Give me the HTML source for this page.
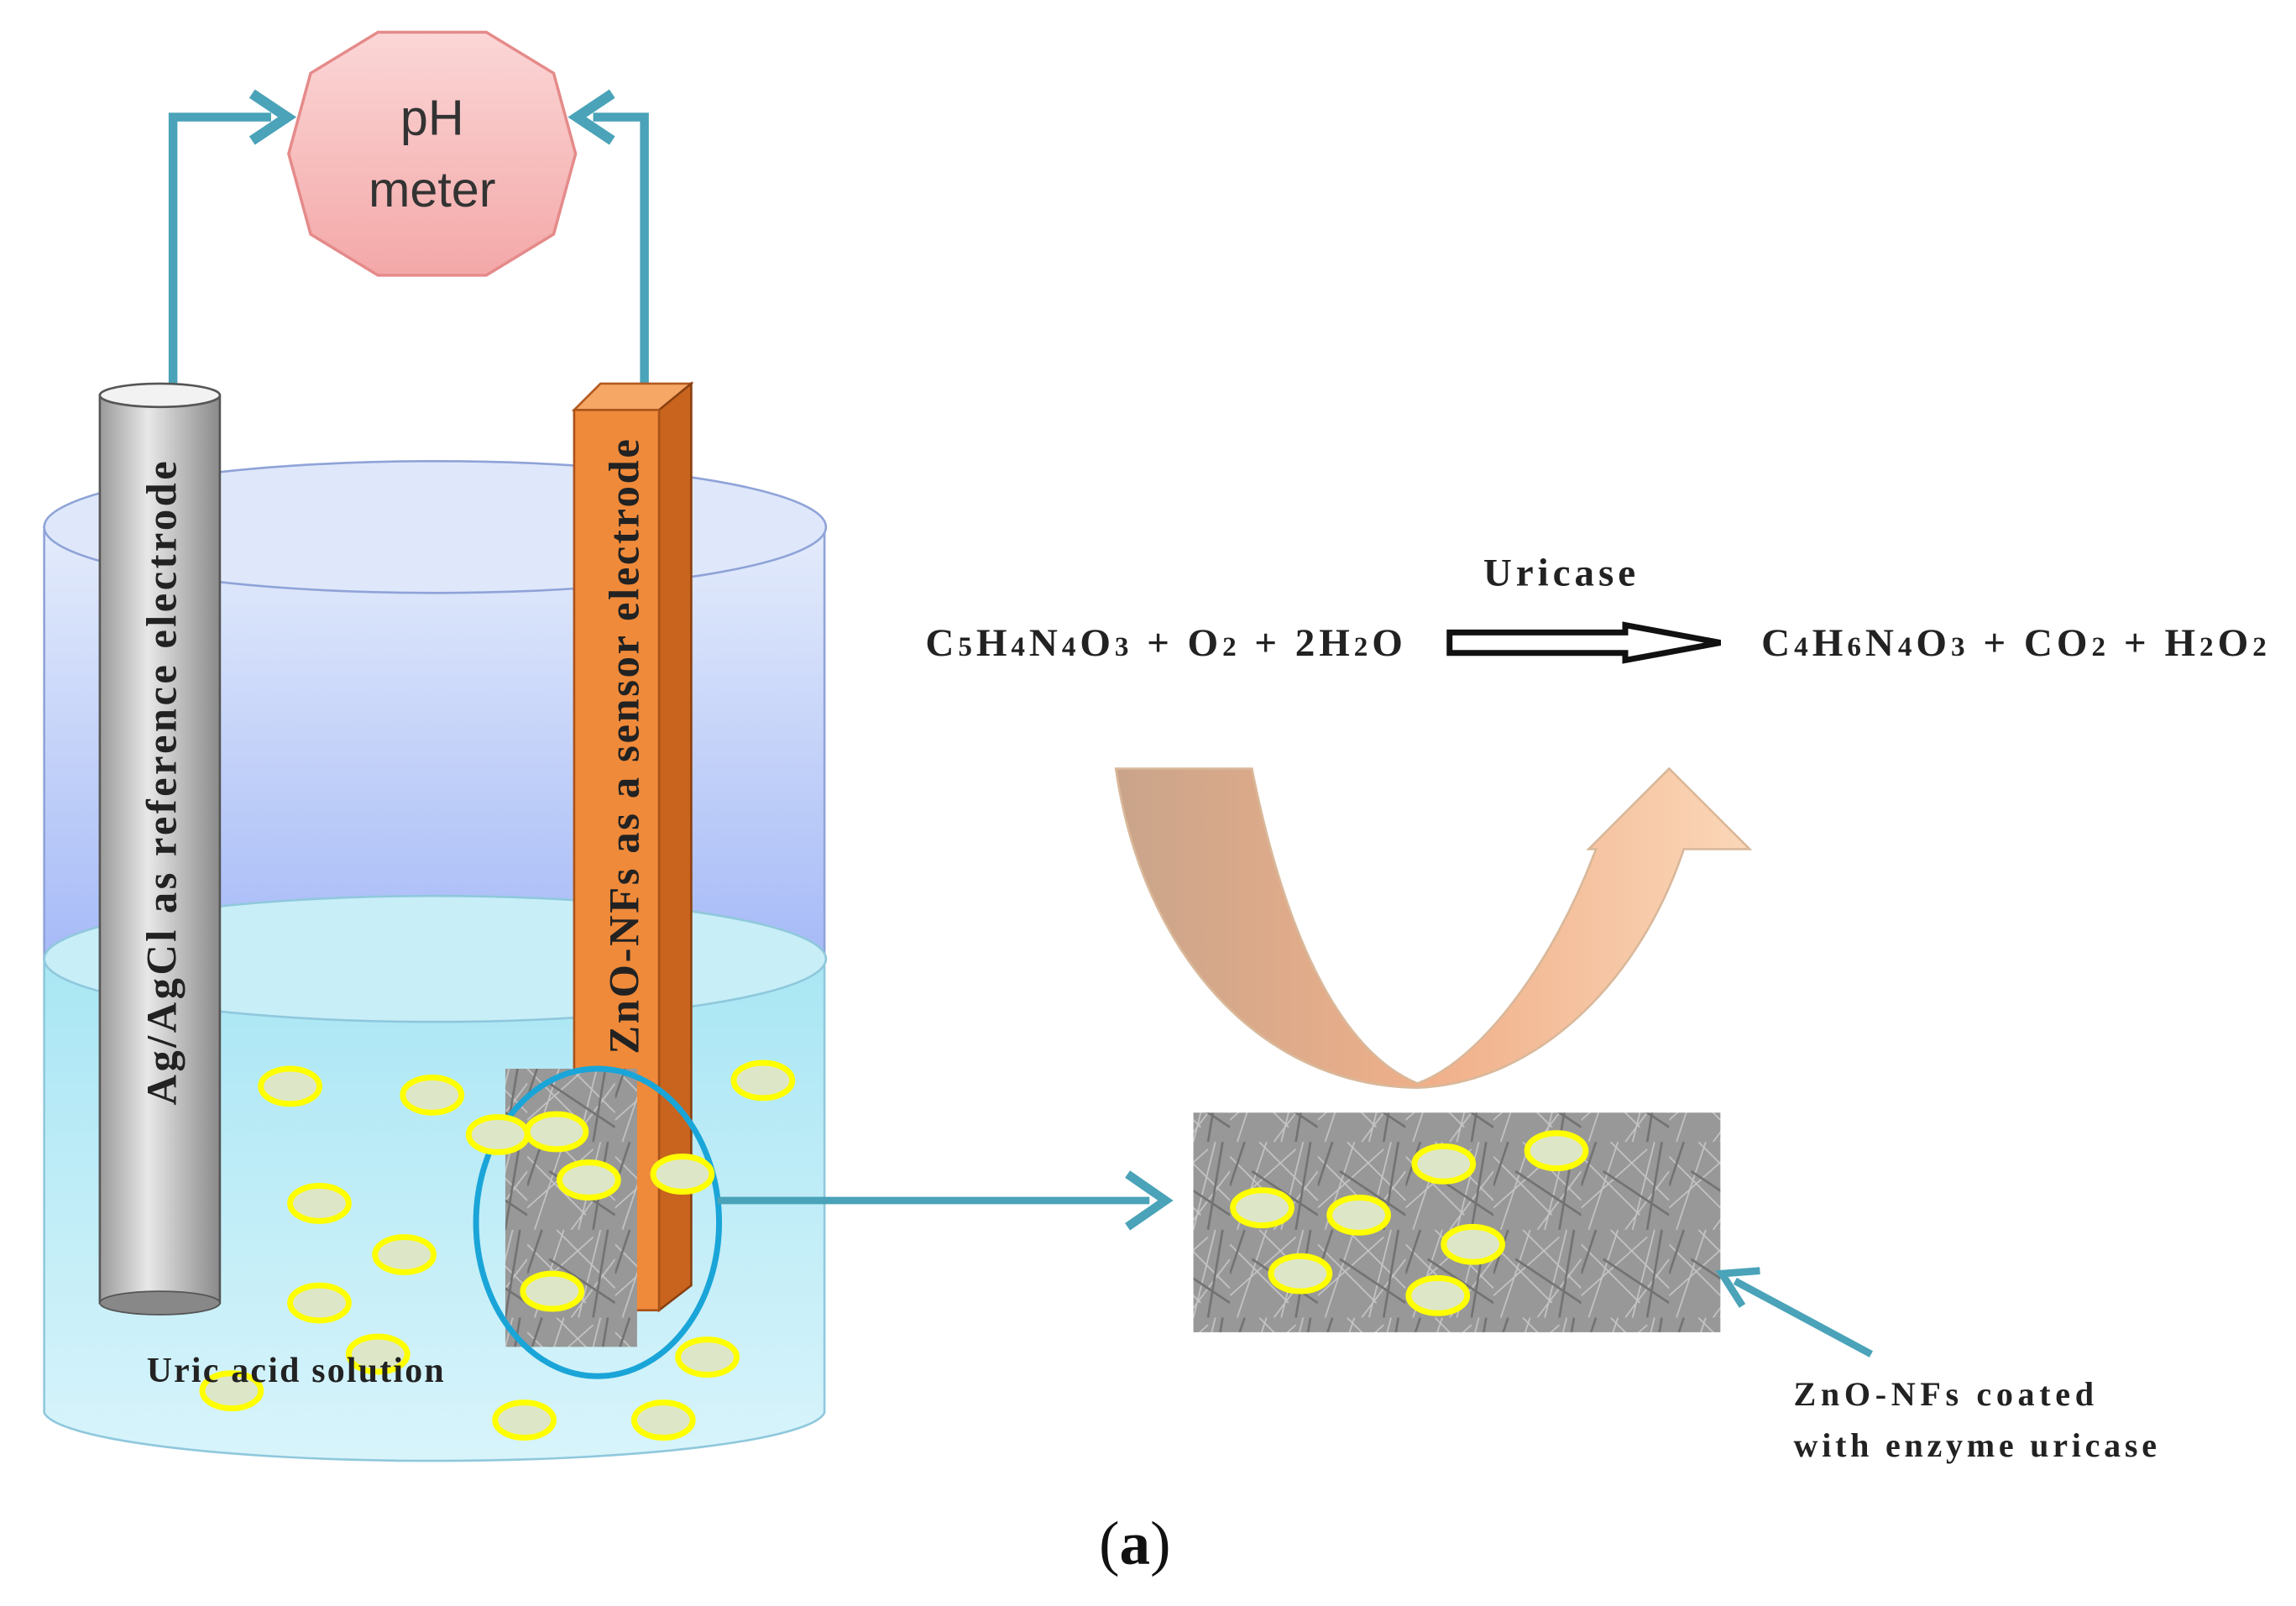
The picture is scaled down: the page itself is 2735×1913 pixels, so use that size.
<!DOCTYPE html>
<html><head><meta charset="utf-8"><style>html,body{margin:0;padding:0;background:#fff}svg{display:block}</style></head>
<body>
<svg width="2735" height="1913" viewBox="0 0 1568 1097" xmlns="http://www.w3.org/2000/svg" font-family="'Liberation Serif', serif">
<defs>
<linearGradient id="pink" x1="0" y1="0" x2="0" y2="1"><stop offset="0" stop-color="#fbd6d6"/><stop offset="1" stop-color="#f4a8a8"/></linearGradient>
<linearGradient id="upper" x1="0" y1="0" x2="0" y2="1"><stop offset="0" stop-color="#e4ecfb"/><stop offset="1" stop-color="#a6baf7"/></linearGradient>
<linearGradient id="water" x1="0" y1="0" x2="0" y2="1"><stop offset="0" stop-color="#a9e6f4"/><stop offset="1" stop-color="#d8f4fb"/></linearGradient>
<linearGradient id="gray" x1="0" y1="0" x2="1" y2="0"><stop offset="0" stop-color="#9a9a9a"/><stop offset="0.4" stop-color="#e8e8e8"/><stop offset="1" stop-color="#8a8a8a"/></linearGradient>
<linearGradient id="uarrow" x1="0" y1="0" x2="1" y2="0"><stop offset="0" stop-color="#c9a48a"/><stop offset="0.5" stop-color="#f0b08a"/><stop offset="1" stop-color="#fbd7b8"/></linearGradient>
<pattern id="sem" width="60" height="60" patternUnits="userSpaceOnUse">
<rect width="60" height="60" fill="#989898"/>
<path d="M0 10 L40 50 M20 0 L60 40 M0 45 L45 5 M30 60 L60 20 M5 60 L25 0 M50 0 L35 60" stroke="#c4c4c4" stroke-width="1" fill="none"/>
<path d="M10 0 L0 30 M60 50 L15 20 M45 60 L55 0" stroke="#727272" stroke-width="1.5" fill="none"/>
</pattern>
</defs>
<path d="M118 268 V80 H185" stroke="#4aa3b8" stroke-width="6" fill="none"/>
<path d="M172 64 L196 80 L172 96" stroke="#4aa3b8" stroke-width="7" fill="none"/>
<path d="M440 268 V80 H405" stroke="#4aa3b8" stroke-width="6" fill="none"/>
<path d="M418 64 L394 80 L418 96" stroke="#4aa3b8" stroke-width="7" fill="none"/>
<polygon points="258,22 332,22 378,50 393,105 378,160 332,188 258,188 212,160 197,105 212,50" fill="url(#pink)" stroke="#e58a8a" stroke-width="2"/>
<text x="295" y="92" font-family="'Liberation Sans',sans-serif" font-size="34" text-anchor="middle" fill="#333">pH</text>
<text x="295" y="141" font-family="'Liberation Sans',sans-serif" font-size="34" text-anchor="middle" fill="#333">meter</text>
<path d="M30 360 V655 H563 V360 Z" fill="url(#upper)" stroke="#8fa3d8" stroke-width="1.5"/>
<ellipse cx="297" cy="360" rx="267" ry="45" fill="#dfe8fb" stroke="#8fa3d8" stroke-width="1.5"/>
<path d="M30 655 V965 A267 35 0 0 0 563 965 V655 Z" fill="url(#water)" stroke="#8fc8dc" stroke-width="1.5"/>
<ellipse cx="297" cy="655" rx="267" ry="43" fill="#c8eef8" stroke="#8fc8dc" stroke-width="1.5"/>
<rect x="68" y="270" width="82" height="620" fill="url(#gray)" stroke="#555" stroke-width="1.5"/>
<ellipse cx="109" cy="890" rx="41" ry="8" fill="#888" stroke="#555"/>
<ellipse cx="109" cy="270" rx="41" ry="8" fill="#f2f2f2" stroke="#555" stroke-width="1.5"/>
<text transform="translate(120,535) rotate(-90)" font-size="29" font-weight="bold" text-anchor="middle" fill="#222" textLength="440" lengthAdjust="spacing">Ag/AgCl  as  reference electrode</text>
<polygon points="392,280 410,262 472,262 454,280" fill="#f6a766" stroke="#b45a20" stroke-width="1.5"/>
<polygon points="450,280 472,262 472,878 450,895" fill="#c8641e" stroke="#8a4010" stroke-width="1.5"/>
<rect x="392" y="280" width="58" height="615" fill="#ef8a3a" stroke="#a9521a" stroke-width="1.5"/>
<text transform="translate(436,510) rotate(-90)" font-size="29" font-weight="bold" text-anchor="middle" fill="#222" textLength="420" lengthAdjust="spacing">ZnO-NFs as a sensor electrode</text>
<rect x="345" y="730" width="90" height="190" fill="url(#sem)"/>
<ellipse cx="408" cy="835" rx="83" ry="105" fill="none" stroke="#1aa5d8" stroke-width="4"/>
<g fill="#dde6c6" stroke="#ffff00" stroke-width="4">
<ellipse cx="198" cy="742" rx="20" ry="12"/><ellipse cx="295" cy="748" rx="20" ry="12"/><ellipse cx="340" cy="775" rx="20" ry="12"/>
<ellipse cx="380" cy="773" rx="20" ry="12"/><ellipse cx="402" cy="806" rx="20" ry="12"/><ellipse cx="466" cy="802" rx="20" ry="12"/>
<ellipse cx="521" cy="738" rx="20" ry="12"/><ellipse cx="218" cy="822" rx="20" ry="12"/><ellipse cx="276" cy="857" rx="20" ry="12"/>
<ellipse cx="218" cy="890" rx="20" ry="12"/><ellipse cx="377" cy="882" rx="20" ry="12"/><ellipse cx="258" cy="925" rx="20" ry="12"/>
<ellipse cx="158" cy="950" rx="20" ry="12"/><ellipse cx="483" cy="927" rx="20" ry="12"/><ellipse cx="358" cy="970" rx="20" ry="12"/>
<ellipse cx="453" cy="970" rx="20" ry="12"/>
</g>
<text x="100" y="944" font-size="24" font-weight="bold" fill="#222" textLength="203" lengthAdjust="spacing">Uric acid solution</text>
<path d="M490 820 H785" stroke="#4aa3b8" stroke-width="5" fill="none"/>
<path d="M770 802 L796 820 L770 838" stroke="#4aa3b8" stroke-width="6" fill="none"/>
<rect x="815" y="760" width="360" height="150" fill="url(#sem)"/>
<g fill="#dde6c6" stroke="#ffff00" stroke-width="4">
<ellipse cx="862" cy="825" rx="20" ry="12"/><ellipse cx="928" cy="830" rx="20" ry="12"/><ellipse cx="986" cy="795" rx="20" ry="12"/>
<ellipse cx="1063" cy="786" rx="20" ry="12"/><ellipse cx="1006" cy="850" rx="20" ry="12"/><ellipse cx="888" cy="870" rx="20" ry="12"/>
<ellipse cx="982" cy="885" rx="20" ry="12"/>
</g>
<path d="M1278 925 L1185 875" stroke="#4aa3b8" stroke-width="5" fill="none"/>
<path d="M1190 892 L1176 870 L1202 868" stroke="#4aa3b8" stroke-width="5" fill="none"/>
<text x="1225" y="960" font-size="23" font-weight="bold" fill="#222" textLength="205" lengthAdjust="spacing">ZnO-NFs   coated</text>
<text x="1225" y="995" font-size="23" font-weight="bold" fill="#222" textLength="248" lengthAdjust="spacing">with  enzyme  uricase</text>
<path d="M762 525 L855 525 C880 650 920 720 968 740 C1010 725 1060 660 1090 580 L1085 580 L1140 525 L1195 580 L1150 580 C1120 670 1050 740 968 743 C860 742 780 650 762 525 Z" fill="url(#uarrow)" stroke="#d9b89a" stroke-width="1.5"/>
<text x="632" y="448" font-size="27" font-weight="bold" fill="#222" textLength="326" lengthAdjust="spacing">C<tspan font-size="19">5</tspan>H<tspan font-size="19">4</tspan>N<tspan font-size="19">4</tspan>O<tspan font-size="19">3</tspan> + O<tspan font-size="19">2</tspan> + 2H<tspan font-size="19">2</tspan>O</text>
<text x="1013" y="400" font-size="27" font-weight="bold" fill="#222" textLength="104" lengthAdjust="spacing">Uricase</text>
<path d="M990 432 H1110 V427 L1175 439 L1110 451 V446 H990 Z" fill="#fff" stroke="#111" stroke-width="4"/>
<text x="1203" y="448" font-size="27" font-weight="bold" fill="#222" textLength="345" lengthAdjust="spacing">C<tspan font-size="19">4</tspan>H<tspan font-size="19">6</tspan>N<tspan font-size="19">4</tspan>O<tspan font-size="19">3</tspan> + CO<tspan font-size="19">2</tspan> + H<tspan font-size="19">2</tspan>O<tspan font-size="19">2</tspan></text>
<text x="775" y="1068" font-size="42" text-anchor="middle" fill="#111">(<tspan font-weight="bold">a</tspan>)</text>
</svg>
</body></html>
